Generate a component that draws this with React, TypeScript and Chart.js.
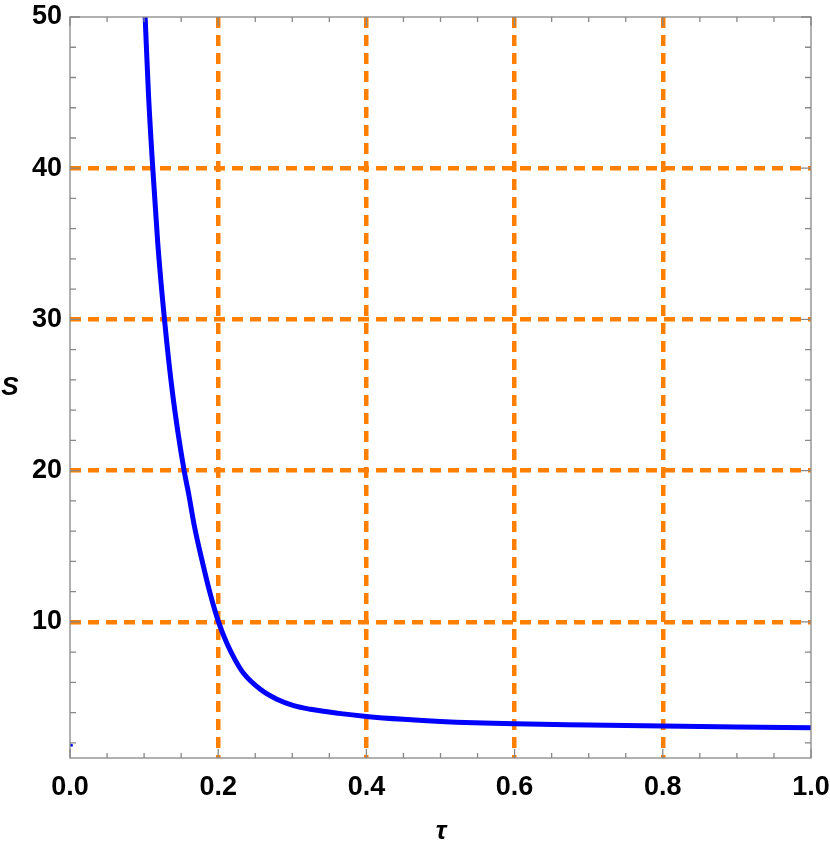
import React, { useEffect, useRef } from 'react';
import { Chart, registerables } from 'chart.js';

Chart.register(...registerables);

// curve values
const tau = [
  0.1014, 0.1058, 0.1117, 0.1185, 0.1275, 0.1387, 0.154, 0.16, 0.168, 0.178, 0.189, 0.2004,
  0.2117, 0.223, 0.2342, 0.2568, 0.2793, 0.3018, 0.3243, 0.3626, 0.4, 0.45, 0.5, 0.6, 0.7,
  0.8, 0.9, 1.0,
];
const sValues = [
  50, 45, 40, 35, 30, 25, 20, 18.5, 16.3, 14.1, 11.9, 10,
  8.58, 7.47, 6.6, 5.54, 4.88, 4.46, 4.22, 3.95, 3.75, 3.56, 3.42, 3.26, 3.18,
  3.11, 3.05, 3.0,
];
// stray point at the left edge
const strayTau = [0.002];
const strayS = [1.85];

const xTicks = [0, 0.05, 0.1, 0.15, 0.2, 0.25, 0.3, 0.35, 0.4, 0.45, 0.5, 0.55, 0.6, 0.65, 0.7, 0.75, 0.8, 0.85, 0.9, 0.95, 1.0];
const xLabels = ['0.0', '', '', '', '0.2', '', '', '', '0.4', '', '', '', '0.6', '', '', '', '0.8', '', '', '', '1.0'];
const yTicks = [2, 4, 6, 8, 10, 12, 14, 16, 18, 20, 22, 24, 26, 28, 30, 32, 34, 36, 38, 40, 42, 44, 46, 48, 50];
const yMajor = [10, 20, 30, 40, 50];
const xGridAt = [0.2, 0.4, 0.6, 0.8];
const yGridAt = [10, 20, 30, 40];

const ORANGE = '#ff8000';
const FRAME = '#888888';
const FONT = "'Liberation Sans', Arial, sans-serif";

const near = (a: number, list: number[]) => list.some((v) => Math.abs(v - a) < 1e-6);

const framePlugin = {
  id: 'frame',
  afterDatasetsDraw(chart: any) {
    const { ctx, chartArea: a, scales } = chart;
    const xs = scales.x;
    const ys = scales.y;
    ctx.save();
    ctx.strokeStyle = FRAME;
    ctx.lineWidth = 1.3;
    ctx.strokeRect(a.left, a.top, a.right - a.left, a.bottom - a.top);
    ctx.beginPath();
    xTicks.forEach((v, i) => {
      const px = xs.getPixelForValue(v);
      const len = xLabels[i] ? 9 : 5;
      ctx.moveTo(px, a.bottom);
      ctx.lineTo(px, a.bottom - len);
      ctx.moveTo(px, a.top);
      ctx.lineTo(px, a.top + len);
    });
    yTicks.forEach((v) => {
      const py = ys.getPixelForValue(v);
      const len = near(v, yMajor) ? 10 : 6;
      ctx.moveTo(a.left, py);
      ctx.lineTo(a.left + len, py);
      ctx.moveTo(a.right, py);
      ctx.lineTo(a.right - len, py);
    });
    ctx.stroke();
    // axis titles
    ctx.fillStyle = '#000';
    ctx.font = `italic bold 26px ${FONT}`;
    ctx.textAlign = 'center';
    ctx.textBaseline = 'middle';
    ctx.fillText('S', 10, 388);
    ctx.fillText('τ', 441, 832);
    ctx.restore();
  },
};

const App: React.FC = () => {
  const canvasRef = useRef<HTMLCanvasElement>(null);
  const chartRef = useRef<Chart | null>(null);

  useEffect(() => {
    if (!canvasRef.current) return;
    const ctx = canvasRef.current.getContext('2d');
    if (!ctx) return;
    if (chartRef.current) chartRef.current.destroy();

    chartRef.current = new Chart(ctx, {
      type: 'scatter',
      data: {
        datasets: [
          {
            data: tau.map((t, i) => ({ x: t, y: sValues[i] })),
            showLine: true,
            borderColor: '#0000ff',
            borderWidth: 5,
            pointRadius: 0,
            cubicInterpolationMode: 'monotone',
            fill: false,
          },
          {
            data: strayTau.map((t, i) => ({ x: t, y: strayS[i] })),
            showLine: false,
            pointRadius: 1.5,
            pointBorderWidth: 0,
            backgroundColor: '#0000ff',
          },
        ],
      },
      options: {
        animation: false,
        responsive: false,
        layout: { padding: { top: 17, right: 19, left: 0, bottom: 0 } },
        plugins: { legend: { display: false }, tooltip: { enabled: false } },
        scales: {
          x: {
            type: 'linear',
            min: 0,
            max: 1,
            afterBuildTicks: (scale: any) => {
              scale.ticks = xTicks.map((v) => ({ value: v }));
            },
            afterFit: (scale: any) => {
              scale.height = 91;
              scale.paddingLeft = 0;
              scale.paddingRight = 0;
            },
            ticks: {
              autoSkip: false,
              maxRotation: 0,
              padding: 13,
              color: '#000',
              font: { family: FONT, size: 27, weight: 'bold' },
              callback: (_v: any, i: number) => xLabels[i],
            },
            grid: {
              drawTicks: false,
              lineWidth: 4.5,
              color: (c: any) => (c.tick && near(c.tick.value, xGridAt) ? ORANGE : 'transparent'),
            },
            border: { display: false, dash: [11, 7] },
          },
          y: {
            type: 'linear',
            min: 1,
            max: 50,
            afterBuildTicks: (scale: any) => {
              scale.ticks = yTicks.map((v) => ({ value: v }));
            },
            afterFit: (scale: any) => {
              scale.width = 70;
              scale.paddingTop = 0;
              scale.paddingBottom = 0;
            },
            ticks: {
              autoSkip: false,
              padding: 8,
              color: '#000',
              font: { family: FONT, size: 27, weight: 'bold' },
              callback: (v: any) => (near(Number(v), yMajor) ? String(v) : ''),
            },
            grid: {
              drawTicks: false,
              lineWidth: 4.5,
              color: (c: any) => (c.tick && near(c.tick.value, yGridAt) ? ORANGE : 'transparent'),
            },
            border: { display: false, dash: [11, 7] },
          },
        },
      },
      plugins: [framePlugin],
    });

    return () => {
      if (chartRef.current) {
        chartRef.current.destroy();
        chartRef.current = null;
      }
    };
  }, []);

  return (
    <div style={{ position: 'absolute', left: 0, top: 0, width: 830, height: 849, background: '#fff' }}>
      <canvas ref={canvasRef} width={830} height={849} style={{ width: 830, height: 849 }}></canvas>
    </div>
  );
};

export default App;
